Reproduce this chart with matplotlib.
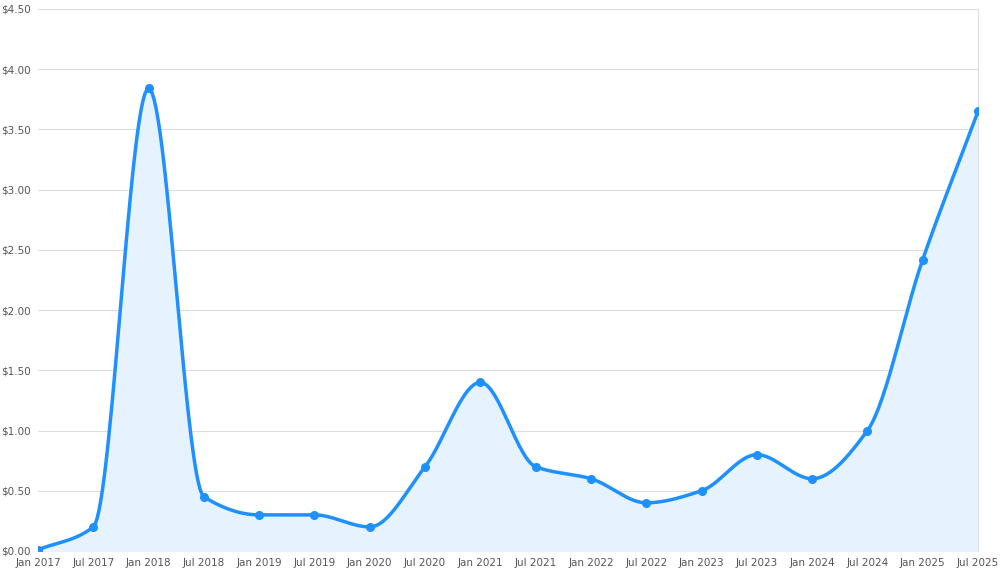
import numpy as np
import matplotlib
matplotlib.use("Agg")
import matplotlib.pyplot as plt
from matplotlib.ticker import FuncFormatter

labels = ["Jan 2017", "Jul 2017", "Jan 2018", "Jul 2018", "Jan 2019", "Jul 2019",
          "Jan 2020", "Jul 2020", "Jan 2021", "Jul 2021", "Jan 2022", "Jul 2022",
          "Jan 2023", "Jul 2023", "Jan 2024", "Jul 2024", "Jan 2025", "Jul 2025"]
prices = [0.01, 0.20, 3.84, 0.45, 0.30, 0.30, 0.20, 0.70, 1.40, 0.70,
          0.60, 0.40, 0.50, 0.80, 0.60, 1.00, 2.42, 3.65]


def monotone(x, y, n=30):
    # Fritsch-Carlson monotone cubic, for drawing the smooth line only
    x = np.asarray(x, float); y = np.asarray(y, float)
    h = np.diff(x); d = np.diff(y) / h
    m = np.zeros_like(y)
    m[0], m[-1] = d[0], d[-1]
    for i in range(1, len(y) - 1):
        if d[i - 1] * d[i] > 0:
            m[i] = 3 * (h[i - 1] + h[i]) / ((2 * h[i] + h[i - 1]) / d[i - 1] + (h[i] + 2 * h[i - 1]) / d[i])
    xs, ys = [], []
    for i in range(len(h)):
        t = np.linspace(0, 1, n, endpoint=False)
        h00 = 2*t**3 - 3*t**2 + 1; h10 = t**3 - 2*t**2 + t
        h01 = -2*t**3 + 3*t**2; h11 = t**3 - t**2
        xs.append(x[i] + t * h[i])
        ys.append(h00*y[i] + h10*h[i]*m[i] + h01*y[i+1] + h11*h[i]*m[i+1])
    xs.append([x[-1]]); ys.append([y[-1]])
    return np.concatenate(xs), np.concatenate(ys)


x = np.arange(len(labels))
sx, sy = monotone(x, prices)

fig = plt.figure(figsize=(10, 5.78), dpi=100)
ax = fig.add_axes([0.038, 27/578, 0.94, 542/578])
ax.fill_between(sx, sy, 0, color="#e6f2fd", zorder=1)
ax.plot(sx, sy, color="#1e90ff", lw=2.5, zorder=3)
ax.plot(x, prices, "o", color="#1e90ff", ms=5.5, zorder=4)

ax.set_xlim(0, len(labels) - 1)
ax.set_ylim(0, 4.5)
ax.set_yticks(np.arange(0, 4.51, 0.5))
ax.yaxis.set_major_formatter(FuncFormatter(lambda v, p: f"${v:.2f}"))
ax.set_xticks(x)
ax.set_xticklabels(labels)
ax.tick_params(labelsize=7.5, colors="#555555", length=0, pad=5)
ax.grid(axis="y", color="#dddddd", lw=0.8)
ax.grid(axis="x", visible=False)
ax.set_axisbelow(True)
for s in ["top", "left", "bottom"]:
    ax.spines[s].set_visible(False)
ax.spines["right"].set_color("#dddddd")

fig.savefig("out.png", dpi=100)
